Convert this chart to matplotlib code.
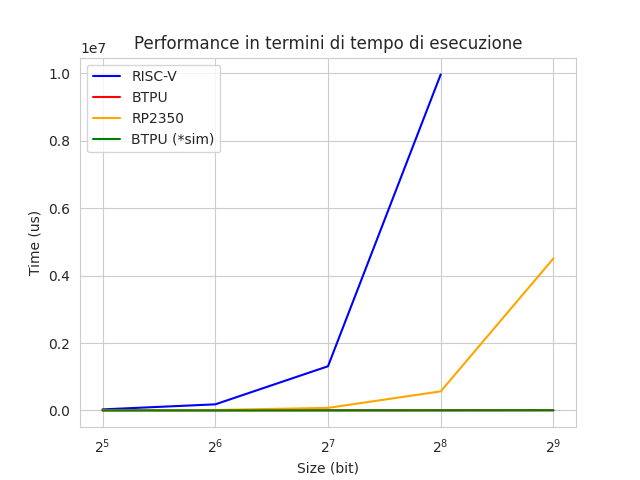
import matplotlib
matplotlib.use("Agg")
import matplotlib.pyplot as plt
import seaborn as sns

sns.set_style("whitegrid")

sizes = [32, 64, 128, 256, 512]
riscv_sizes = [32, 64, 128, 256]
riscv = [30000, 180000, 1310000, 9970000]
btpu = [200, 400, 800, 1600, 3200]
rp2350 = [2000, 12000, 75000, 565000, 4510000]
btpu_sim = [300, 600, 1200, 2400, 4800]

fig, ax = plt.subplots(figsize=(6.4, 4.8), dpi=100)
ax.plot(riscv_sizes, riscv, color="blue", label="RISC-V")
ax.plot(sizes, btpu, color="red", label="BTPU")
ax.plot(sizes, rp2350, color="orange", label="RP2350")
ax.plot(sizes, btpu_sim, color="green", label="BTPU (*sim)")
ax.set_xscale("log", base=2)
ax.set_xlabel("Size (bit)")
ax.set_ylabel("Time (us)")
ax.set_title("Performance in termini di tempo di esecuzione")
ax.legend(loc="upper left")
fig.savefig("out.png")
